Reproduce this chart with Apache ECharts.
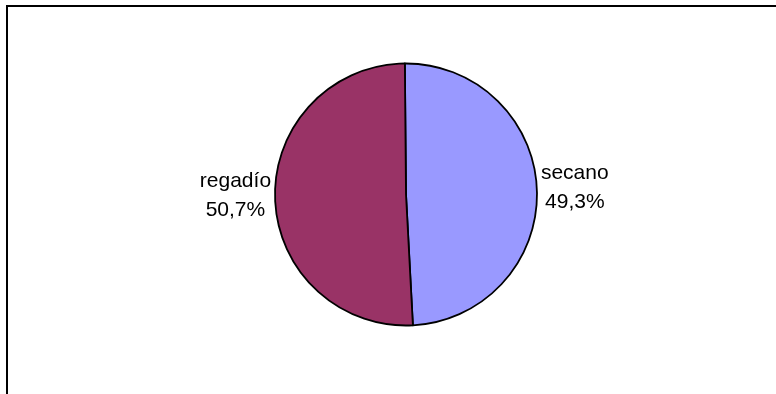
<!DOCTYPE html>
<html>
<head>
<meta charset="utf-8">
<style>
  html, body { margin: 0; padding: 0; background: #fff; }
  #chart { width: 776px; height: 394px; }
</style>
<script src="https://cdn.jsdelivr.net/npm/echarts@6/dist/echarts.min.js"></script>
</head>
<body>
<div id="chart"></div>
<script>
// Superficie: reparto entre secano y regadío (%)
const categories = ['secano', 'regadío'];
const shares = [49.3, 50.7];
const sliceColors = ['#9999FF', '#993366'];

const chart = echarts.init(document.getElementById('chart'), null, { renderer: 'canvas' });

const pieData = categories.map((name, i) => ({
  name: name,
  value: shares[i],
  itemStyle: { color: sliceColors[i] }
}));

chart.setOption({
  backgroundColor: '#ffffff',
  animation: false,
  graphic: [{
    type: 'rect',
    shape: { x: 7, y: 6, width: 820, height: 420 },
    style: { fill: 'none', stroke: '#000', lineWidth: 2 },
    silent: true
  }],
  series: [{
    type: 'pie',
    center: [406, 194.5],
    radius: 131,
    startAngle: 90.5,
    clockwise: true,
    avoidLabelOverlap: false,
    itemStyle: { borderColor: '#000', borderWidth: 1.8 },
    label: {
      show: true,
      position: 'outside',
      color: '#000',
      fontFamily: 'Liberation Sans, Arial, sans-serif',
      fontSize: 21,
      lineHeight: 29,
      distanceToLabelLine: 4,
      formatter: p => p.name + '\n' + p.percent.toFixed(1).replace('.', ',') + '%'
    },
    labelLine: { show: false, length: 0, length2: 0 },
    // centre each two-line label on its box and lift it slightly
    labelLayout: params => ({
      x: params.labelRect.x + params.labelRect.width / 2,
      align: 'center',
      dy: -3
    }),
    emphasis: { disabled: true },
    data: pieData
  }]
});
</script>
</body>
</html>
